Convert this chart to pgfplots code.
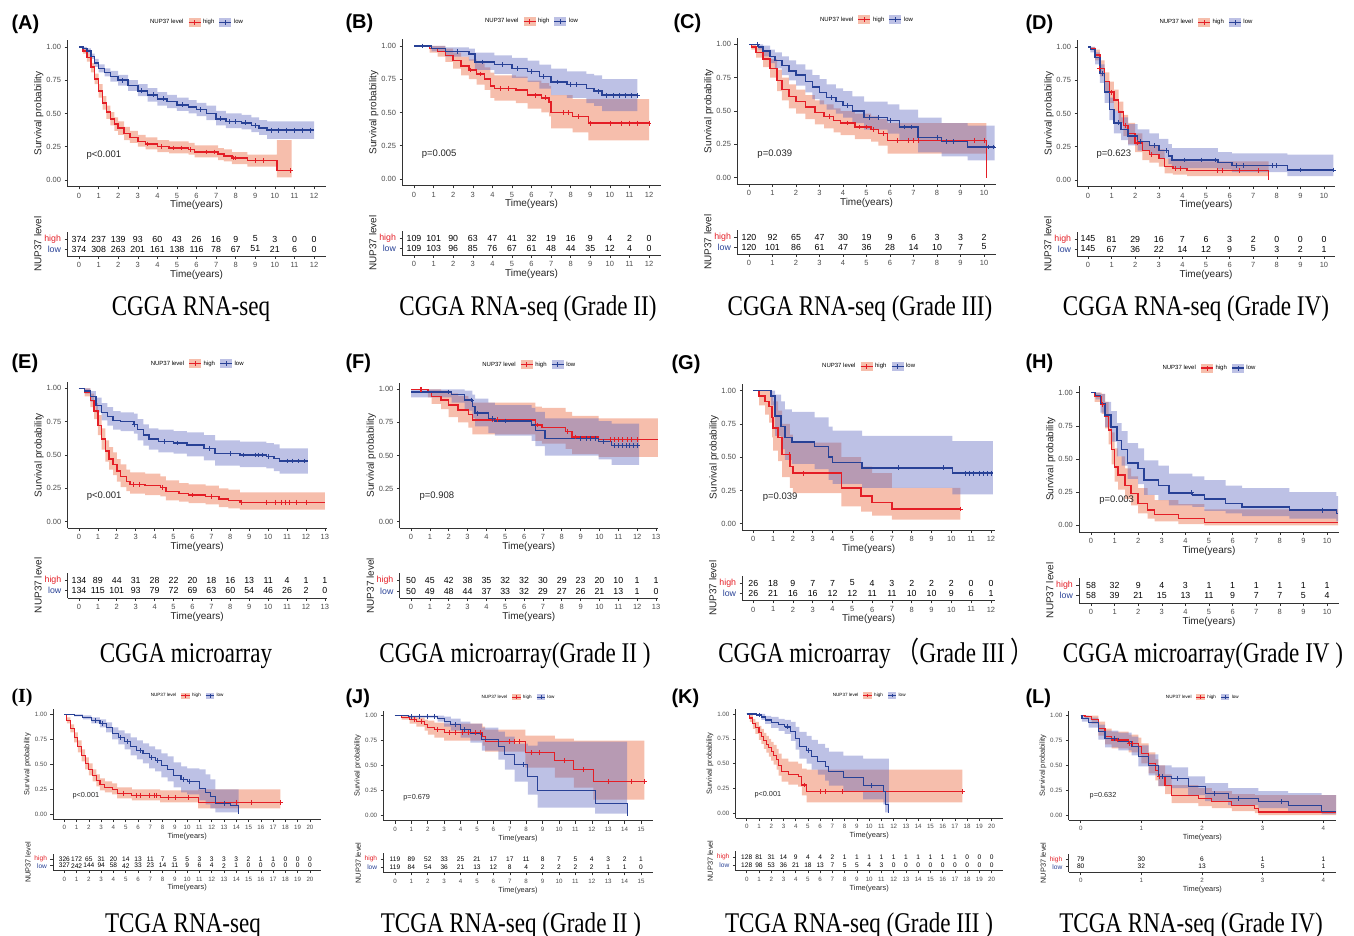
\documentclass[border=0pt]{standalone}
\usepackage{fontspec}
\setmainfont{Liberation Serif}
\newfontfamily\arialf{Liberation Sans}
\newfontfamily\cjk{Noto Sans CJK SC}
\usepackage{graphicx}
\usepackage{xcolor}
\usepackage{pgfplots}
\usepackage{pgfplotstable}
\pgfplotsset{compat=1.18}

\definecolor{kmR}{RGB}{228,30,38}
\definecolor{kmB}{RGB}{40,65,150}
\definecolor{bandR}{RGB}{235,110,70}
\definecolor{bandB}{RGB}{90,100,190}

% font sizes (1pt = 1px of the reference)
\newcommand\fTick{\arialf\fontsize{7.5}{8}\selectfont}
\newcommand\fLab{\arialf\fontsize{10}{11}\selectfont}
\newcommand\fNum{\arialf\fontsize{8.8}{9}\selectfont}
\newcommand\fP{\arialf\fontsize{9.5}{10}\selectfont}
\newcommand\fLeg{\arialf\fontsize{6}{7}\selectfont}
\newcommand\sTick{\arialf\fontsize{6.2}{7}\selectfont}
\newcommand\sLab{\arialf\fontsize{7.4}{8}\selectfont}
\newcommand\sNum{\arialf\fontsize{6.6}{7}\selectfont}
\newcommand\sP{\arialf\fontsize{7.3}{8}\selectfont}
\newcommand\sLeg{\arialf\fontsize{4.6}{5}\selectfont}
\newcommand\fPan{\arialf\bfseries\fontsize{20}{22}\selectfont}
\newcommand\capt[1]{\scalebox{0.81}[1]{\fontsize{28.5}{30}\selectfont #1}}

\pgfplotsset{
  base/.style={scale only axis, anchor=south west, axis lines=left,
    axis line style={-,black!80,line width=0.7pt}, tick align=outside,
    major tick length=2.8pt, tick style={black!80,line width=0.6pt},
    /pgf/number format/assume math mode=true, xlabel={Time(years)}},
  km/.style={base, ymin=-0.05, ymax=1.05, ytick={0,0.25,0.5,0.75,1},
    yticklabels={0.00,0.25,0.50,0.75,1.00}, ylabel={Survival probability},
    legend columns=-1,
    legend style={draw=none, fill=none, at={(0.5,1)}, anchor=center, inner sep=0pt,
      /tikz/every even column/.append style={column sep=2.5pt}}},
  rt/.style={base, ymin=0.3, ymax=2.7, ytick={1,2},
    yticklabels={\textcolor{kmB}{low},\textcolor{kmR}{high}}, ylabel={NUP37 level},
    every node near coord/.append style={anchor=center, text=black}},
  big/.style={tick label style={font=\fTick,text=black!70},
    label style={font=\fLab,text=black!85},
    xlabel style={yshift=4.5pt}, ylabel style={yshift=-4pt},
    legend style={font=\fLeg,yshift=18pt},
    every node near coord/.append style={font=\fNum},
    legR/.style={legend image code/.code={
      \fill[bandR,fill opacity=0.45,draw=none] (0pt,-4.5pt) rectangle (12pt,4.5pt);
      \draw[kmR,line width=1.1pt] (0pt,0pt)--(12pt,0pt);
      \draw[kmR,line width=0.7pt] (6pt,-2.5pt)--(6pt,2.5pt);}},
    legB/.style={legend image code/.code={
      \fill[bandB,fill opacity=0.4,draw=none] (0pt,-4.5pt) rectangle (12pt,4.5pt);
      \draw[kmB,line width=1.1pt] (0pt,0pt)--(12pt,0pt);
      \draw[kmB,line width=0.7pt] (6pt,-2.5pt)--(6pt,2.5pt);}}},
  bigrt/.style={big, yticklabel style={font=\fNum}},
  small/.style={tick label style={font=\sTick,text=black!70},
    label style={font=\sLab,text=black!85},
    xlabel style={yshift=3.5pt}, ylabel style={yshift=-3pt},
    legend style={font=\sLeg,yshift=13.5pt},
    every node near coord/.append style={font=\sNum},
    legR/.style={legend image code/.code={
      \fill[bandR,fill opacity=0.45,draw=none] (0pt,-3.2pt) rectangle (8.5pt,3.2pt);
      \draw[kmR,line width=0.8pt] (0pt,0pt)--(8.5pt,0pt);
      \draw[kmR,line width=0.5pt] (4.25pt,-1.8pt)--(4.25pt,1.8pt);}},
    legB/.style={legend image code/.code={
      \fill[bandB,fill opacity=0.4,draw=none] (0pt,-3.2pt) rectangle (8.5pt,3.2pt);
      \draw[kmB,line width=0.8pt] (0pt,0pt)--(8.5pt,0pt);
      \draw[kmB,line width=0.5pt] (4.25pt,-1.8pt)--(4.25pt,1.8pt);}}},
  smallrt/.style={small, yticklabel style={font=\sNum}},
}

% #1/#2 high/low curve, #3/#4 high/low band outline, #5/#6 censor marks, #7 line width
\newcommand\kmcurves[7]{%
  \addlegendimage{empty legend}\addlegendentry{NUP37 level}
  \addlegendimage{legR}\addlegendentry{high}
  \addlegendimage{legB}\addlegendentry{low}
  \addplot[const plot,draw=none,fill=bandR,fill opacity=0.45] table[x=t,y=b]{#3};
  \addplot[const plot,draw=none,fill=bandB,fill opacity=0.4] table[x=t,y=b]{#4};
  \addplot[kmR,const plot,line width=#7] table[x=t,y=s]{#1};
  \addplot[kmB,const plot,line width=#7] table[x=t,y=s]{#2};
  \addplot[kmR,only marks,mark=+,mark size=2.4pt,line width=0.7pt] coordinates {#5};
  \addplot[kmB,only marks,mark=+,mark size=2.4pt,line width=0.7pt] coordinates {#6};
}
\newcommand\rtrows[1]{%
  \addplot[draw=none,nodes near coords,point meta=explicit symbolic] table[x=t,y expr=2,meta=h]{#1};
  \addplot[draw=none,nodes near coords,point meta=explicit symbolic] table[x=t,y expr=1,meta=l]{#1};
}

% ---------------- data ----------------
% curves: step start time t, survival s ; bands: upper edge forward, lower edge back
% (A) CGGA RNA-seq
\pgfplotstableread[row sep=\\]{t s\\0 1\\0.2 0.97\\0.4 0.92\\0.6 0.85\\0.8 0.76\\1 0.67\\1.2 0.58\\1.4 0.51\\1.6 0.46\\1.8 0.42\\2 0.39\\2.3 0.35\\2.6 0.32\\3 0.29\\3.4 0.27\\4 0.25\\4.6 0.24\\5.6 0.23\\5.9 0.21\\7.1 0.195\\7.4 0.18\\7.8 0.165\\8.6 0.145\\10.1 0.07\\10.85 0.07\\}\Ah
\pgfplotstableread[row sep=\\]{t s\\0 1\\0.2 0.99\\0.4 0.97\\0.6 0.93\\0.8 0.88\\1 0.84\\1.3 0.81\\1.6 0.78\\2 0.75\\2.5 0.71\\3 0.67\\3.5 0.64\\4 0.61\\4.5 0.59\\5 0.565\\5.6 0.55\\6 0.53\\6.5 0.50\\7 0.46\\7.5 0.44\\8.3 0.43\\8.8 0.41\\9.2 0.39\\9.6 0.375\\12 0.375\\}\Al
\pgfplotstableread[row sep=\\]{t b\\0 1\\0.2 0.99\\0.4 0.95\\0.6 0.88\\0.8 0.80\\1 0.72\\1.2 0.63\\1.4 0.56\\1.6 0.51\\1.8 0.47\\2 0.44\\2.3 0.40\\2.6 0.37\\3 0.34\\3.4 0.32\\4 0.30\\4.6 0.29\\5.6 0.28\\5.9 0.26\\7.1 0.24\\7.4 0.23\\7.8 0.21\\8.6 0.19\\10.1 0.30\\10.85 0.30\\10.85 0.02\\10.1 0.10\\8.6 0.12\\7.8 0.14\\7.4 0.15\\7.1 0.17\\5.9 0.19\\5.6 0.20\\4.6 0.21\\4 0.23\\3.4 0.25\\3 0.28\\2.6 0.30\\2.3 0.34\\2 0.37\\1.8 0.41\\1.6 0.46\\1.4 0.53\\1.2 0.62\\1 0.72\\0.8 0.81\\0.6 0.89\\0.4 0.95\\0.2 1\\0 1\\}\bAh
\pgfplotstableread[row sep=\\]{t b\\0 1\\0.2 1\\0.4 0.99\\0.6 0.95\\0.8 0.91\\1 0.87\\1.3 0.84\\1.6 0.82\\2 0.79\\2.5 0.75\\3 0.72\\3.5 0.69\\4 0.66\\4.5 0.64\\5 0.62\\5.6 0.60\\6 0.58\\6.5 0.56\\7 0.52\\7.5 0.50\\8.3 0.49\\8.8 0.47\\9.2 0.45\\9.6 0.44\\12 0.44\\12 0.31\\9.6 0.34\\9.2 0.36\\8.8 0.38\\8.3 0.39\\7.5 0.41\\7 0.45\\6.5 0.48\\6 0.50\\5.6 0.52\\5 0.54\\4.5 0.56\\4 0.59\\3.5 0.63\\3 0.67\\2.5 0.71\\2 0.74\\1.6 0.78\\1.3 0.81\\1 0.85\\0.8 0.91\\0.6 0.95\\0.4 0.98\\0.2 1\\0 1\\}\bAl
\pgfplotstableread[row sep=\\]{t h l\\0 374 374\\1 237 308\\2 139 263\\3 93 201\\4 60 161\\5 43 138\\6 26 116\\7 16 78\\8 9 67\\9 5 51\\10 3 21\\11 0 6\\12 0 0\\}\RA

% (B)
\pgfplotstableread[row sep=\\]{t s\\0 1\\0.8 0.98\\1.2 0.96\\1.6 0.93\\2 0.89\\2.4 0.85\\2.8 0.82\\3.2 0.79\\3.6 0.75\\3.9 0.70\\4.1 0.68\\5.2 0.67\\5.8 0.63\\6.5 0.61\\6.9 0.58\\7 0.50\\8.1 0.47\\8.9 0.42\\12 0.42\\}\Bh
\pgfplotstableread[row sep=\\]{t s\\0 1\\0.9 0.98\\1.6 0.96\\2.8 0.94\\3.1 0.88\\4.1 0.86\\5 0.83\\5.8 0.81\\6.4 0.77\\7 0.73\\7.8 0.71\\8.8 0.68\\9.2 0.66\\9.6 0.63\\11.4 0.63\\}\Bl
\pgfplotstableread[row sep=\\]{t b\\0 1\\0.8 1\\1.2 1\\1.6 0.98\\2 0.95\\2.4 0.92\\2.8 0.90\\3.2 0.87\\3.6 0.84\\3.9 0.80\\4.1 0.78\\5.2 0.77\\5.8 0.74\\6.5 0.72\\6.9 0.70\\7 0.63\\8.1 0.60\\8.9 0.60\\12 0.60\\12 0.29\\8.9 0.35\\8.1 0.38\\7 0.47\\6.9 0.50\\6.5 0.53\\5.8 0.57\\5.2 0.59\\4.1 0.61\\3.9 0.67\\3.6 0.71\\3.2 0.75\\2.8 0.78\\2.4 0.83\\2 0.88\\1.6 0.92\\1.2 0.95\\0.8 1\\0 1\\}\bBh
\pgfplotstableread[row sep=\\]{t b\\0 1\\0.9 1\\1.6 0.99\\2.8 0.98\\3.1 0.95\\4.1 0.93\\5 0.91\\5.8 0.89\\6.4 0.86\\7 0.83\\7.8 0.81\\8.8 0.79\\9.2 0.78\\9.6 0.75\\11.4 0.75\\11.4 0.51\\9.6 0.55\\9.2 0.57\\8.8 0.61\\7.8 0.63\\7 0.68\\6.4 0.73\\5.8 0.76\\5 0.79\\4.1 0.82\\3.1 0.89\\2.8 0.92\\1.6 0.96\\0.9 1\\0 1\\}\bBl
\pgfplotstableread[row sep=\\]{t h l\\0 109 109\\1 101 103\\2 90 96\\3 63 85\\4 47 76\\5 41 67\\6 32 61\\7 19 48\\8 16 44\\9 9 35\\10 4 12\\11 2 4\\12 0 0\\}\RB

% (C)
\pgfplotstableread[row sep=\\]{t s\\0 1\\0.1 0.98\\0.3 0.94\\0.6 0.89\\0.9 0.82\\1.2 0.73\\1.4 0.66\\1.7 0.61\\2 0.57\\2.4 0.53\\2.8 0.49\\3.2 0.46\\3.6 0.43\\3.9 0.41\\4.5 0.38\\5.2 0.36\\5.5 0.33\\5.9 0.28\\10.1 0.28\\10.1 0\\}\Ch
\pgfplotstableread[row sep=\\]{t s\\0 1\\0.4 0.98\\0.6 0.95\\0.9 0.91\\1.1 0.88\\1.4 0.84\\1.7 0.80\\2 0.77\\2.4 0.72\\2.7 0.68\\3 0.64\\3.3 0.60\\3.7 0.57\\4 0.54\\4.4 0.50\\4.9 0.45\\5.9 0.43\\6.4 0.38\\7.2 0.30\\8.2 0.27\\9.3 0.23\\10.45 0.23\\}\Cl
\pgfplotstableread[row sep=\\]{t b\\0 1\\0.1 1\\0.3 0.98\\0.6 0.95\\0.9 0.89\\1.2 0.81\\1.4 0.75\\1.7 0.70\\2 0.66\\2.4 0.62\\2.8 0.58\\3.2 0.55\\3.6 0.52\\3.9 0.50\\4.5 0.48\\5.2 0.46\\5.5 0.44\\5.9 0.41\\10.1 0.41\\10.1 0.18\\5.9 0.24\\5.5 0.27\\5.2 0.29\\4.5 0.32\\3.9 0.34\\3.6 0.37\\3.2 0.40\\2.8 0.44\\2.4 0.48\\2 0.52\\1.7 0.58\\1.4 0.65\\1.2 0.75\\0.9 0.83\\0.6 0.90\\0.3 0.96\\0.1 1\\0 1\\}\bCh
\pgfplotstableread[row sep=\\]{t b\\0 1\\0.4 1\\0.6 0.99\\0.9 0.96\\1.1 0.94\\1.4 0.91\\1.7 0.88\\2 0.85\\2.4 0.81\\2.7 0.77\\3 0.74\\3.3 0.70\\3.7 0.67\\4 0.65\\4.4 0.61\\4.9 0.57\\5.9 0.55\\6.4 0.51\\7.2 0.45\\8.2 0.41\\9.3 0.39\\10.45 0.39\\10.45 0.13\\9.3 0.16\\8.2 0.19\\7.2 0.28\\6.4 0.33\\5.9 0.36\\4.9 0.41\\4.4 0.45\\4 0.48\\3.7 0.51\\3.3 0.55\\3 0.59\\2.7 0.64\\2.4 0.69\\2 0.73\\1.7 0.77\\1.4 0.82\\1.1 0.86\\0.9 0.91\\0.6 0.96\\0.4 1\\0 1\\}\bCl
\pgfplotstableread[row sep=\\]{t h l\\0 120 120\\1 92 101\\2 65 86\\3 47 61\\4 30 47\\5 19 36\\6 9 28\\7 6 14\\8 3 10\\9 3 7\\10 2 5\\}\RC

% (D)
\pgfplotstableread[row sep=\\]{t s\\0 1\\0.1 0.99\\0.3 0.94\\0.5 0.84\\0.7 0.74\\0.9 0.66\\1.1 0.60\\1.3 0.51\\1.5 0.41\\1.7 0.35\\2 0.28\\2.3 0.22\\2.6 0.19\\3 0.16\\3.25 0.10\\3.6 0.085\\4.2 0.07\\7.65 0.07\\7.65 0\\}\Dh
\pgfplotstableread[row sep=\\]{t s\\0 1\\0.1 0.98\\0.3 0.92\\0.5 0.80\\0.7 0.66\\0.9 0.53\\1.1 0.43\\1.4 0.38\\1.7 0.33\\2.1 0.29\\2.6 0.26\\3 0.22\\3.4 0.18\\3.55 0.15\\5.5 0.13\\6.1 0.11\\8.45 0.075\\10.4 0.075\\}\Dl
\pgfplotstableread[row sep=\\]{t b\\0 1\\0.1 1\\0.3 0.98\\0.5 0.90\\0.7 0.81\\0.9 0.74\\1.1 0.68\\1.3 0.59\\1.5 0.49\\1.7 0.43\\2 0.35\\2.3 0.29\\2.6 0.26\\3 0.23\\3.25 0.16\\3.6 0.15\\4.2 0.14\\7.65 0.14\\7.65 0.03\\4.2 0.04\\3.6 0.05\\3.25 0.10\\3 0.13\\2.6 0.15\\2.3 0.21\\2 0.27\\1.7 0.33\\1.5 0.43\\1.3 0.52\\1.1 0.58\\0.9 0.67\\0.7 0.78\\0.5 0.90\\0.3 0.98\\0.1 1\\0 1\\}\bDh
\pgfplotstableread[row sep=\\]{t b\\0 1\\0.1 1\\0.3 0.96\\0.5 0.87\\0.7 0.74\\0.9 0.62\\1.1 0.52\\1.4 0.47\\1.7 0.42\\2.1 0.38\\2.6 0.35\\3 0.31\\3.4 0.27\\3.55 0.24\\5.5 0.21\\6.1 0.20\\8.45 0.19\\10.4 0.19\\10.4 0.03\\8.45 0.06\\6.1 0.08\\5.5 0.09\\3.55 0.12\\3.4 0.16\\3 0.19\\2.6 0.22\\2.1 0.26\\1.7 0.30\\1.4 0.35\\1.1 0.45\\0.9 0.58\\0.7 0.73\\0.5 0.87\\0.3 0.96\\0.1 1\\0 1\\}\bDl
\pgfplotstableread[row sep=\\]{t h l\\0 145 145\\1 81 67\\2 29 36\\3 16 22\\4 7 14\\5 6 12\\6 3 9\\7 2 5\\8 0 3\\9 0 2\\10 0 1\\}\RD

% (E)
\pgfplotstableread[row sep=\\]{t s\\0 1\\0.3 0.97\\0.6 0.91\\0.8 0.83\\1 0.72\\1.2 0.62\\1.4 0.53\\1.6 0.47\\1.8 0.43\\2 0.38\\2.2 0.34\\2.5 0.30\\2.7 0.28\\3.5 0.27\\4.3 0.255\\4.6 0.225\\5.3 0.21\\5.8 0.20\\6.7 0.19\\7.4 0.17\\7.9 0.16\\8.5 0.145\\13 0.145\\}\Eh
\pgfplotstableread[row sep=\\]{t s\\0 1\\0.3 0.98\\0.6 0.94\\0.9 0.87\\1.2 0.82\\1.5 0.79\\1.8 0.76\\2.2 0.75\\2.9 0.73\\3.1 0.69\\3.4 0.65\\3.7 0.62\\4.2 0.60\\5 0.59\\5.7 0.575\\6.6 0.55\\7.2 0.51\\8.5 0.50\\9.9 0.49\\10.3 0.475\\10.6 0.455\\12.1 0.455\\}\El
\pgfplotstableread[row sep=\\]{t b\\0 1\\0.3 1\\0.6 0.96\\0.8 0.89\\1 0.80\\1.2 0.70\\1.4 0.61\\1.6 0.56\\1.8 0.52\\2 0.47\\2.2 0.43\\2.5 0.39\\2.7 0.37\\3.5 0.36\\4.3 0.34\\4.6 0.31\\5.3 0.29\\5.8 0.28\\6.7 0.27\\7.4 0.25\\7.9 0.24\\8.5 0.22\\13 0.22\\13 0.09\\8.5 0.10\\7.9 0.11\\7.4 0.13\\6.7 0.14\\5.8 0.15\\5.3 0.16\\4.6 0.19\\4.3 0.20\\3.5 0.21\\2.7 0.23\\2.5 0.26\\2.2 0.30\\2 0.35\\1.8 0.39\\1.6 0.45\\1.4 0.54\\1.2 0.65\\1 0.77\\0.8 0.86\\0.6 0.94\\0.3 1\\0 1\\}\bEh
\pgfplotstableread[row sep=\\]{t b\\0 1\\0.3 1\\0.6 0.98\\0.9 0.93\\1.2 0.89\\1.5 0.86\\1.8 0.83\\2.2 0.82\\2.9 0.81\\3.1 0.77\\3.4 0.73\\3.7 0.70\\4.2 0.69\\5 0.68\\5.7 0.67\\6.6 0.65\\7.2 0.61\\8.5 0.60\\9.9 0.59\\10.3 0.58\\10.6 0.55\\12.1 0.55\\12.1 0.36\\10.6 0.38\\10.3 0.40\\9.9 0.41\\8.5 0.42\\7.2 0.46\\6.6 0.49\\5.7 0.51\\5 0.52\\4.2 0.54\\3.7 0.57\\3.4 0.61\\3.1 0.66\\2.9 0.68\\2.2 0.69\\1.8 0.72\\1.5 0.76\\1.2 0.82\\0.9 0.90\\0.6 0.96\\0.3 1\\0 1\\}\bEl
\pgfplotstableread[row sep=\\]{t h l\\0 134 134\\1 89 115\\2 44 101\\3 31 93\\4 28 79\\5 22 72\\6 20 69\\7 18 63\\8 16 60\\9 13 54\\10 11 46\\11 4 26\\12 1 2\\13 1 0\\}\RE

% (F)
\pgfplotstableread[row sep=\\]{t s\\0 1\\0.9 0.98\\1.1 0.945\\1.6 0.92\\2 0.88\\2.5 0.845\\3.05 0.81\\3.25 0.77\\6.6 0.73\\6.95 0.71\\8.2 0.68\\8.55 0.64\\9.95 0.62\\13.1 0.62\\}\Fh
\pgfplotstableread[row sep=\\]{t s\\0 0.98\\2.15 0.96\\2.85 0.92\\3.25 0.87\\3.4 0.82\\4.1 0.78\\4.45 0.76\\6.4 0.73\\6.6 0.69\\7.1 0.63\\9.95 0.605\\10.65 0.575\\12.1 0.575\\}\Fl
\pgfplotstableread[row sep=\\]{t b\\0 1\\0.9 1\\1.1 1\\1.6 0.99\\2 0.97\\2.5 0.95\\3.05 0.93\\3.25 0.90\\6.6 0.87\\6.95 0.86\\8.2 0.83\\8.55 0.80\\9.95 0.78\\13.1 0.78\\13.1 0.49\\9.95 0.51\\8.55 0.55\\8.2 0.59\\6.95 0.61\\6.6 0.66\\3.25 0.71\\3.05 0.75\\2.5 0.79\\2 0.85\\1.6 0.89\\1.1 0.94\\0.9 1\\0 1\\}\bFh
\pgfplotstableread[row sep=\\]{t b\\0 1\\2.15 1\\2.85 0.99\\3.25 0.96\\3.4 0.93\\4.1 0.90\\4.45 0.88\\6.4 0.86\\6.6 0.83\\7.1 0.78\\9.95 0.76\\10.65 0.74\\12.1 0.74\\12.1 0.43\\10.65 0.47\\9.95 0.50\\7.1 0.57\\6.6 0.61\\6.4 0.65\\4.45 0.67\\4.1 0.72\\3.4 0.78\\3.25 0.84\\2.85 0.90\\2.15 0.94\\0 0.94\\}\bFl
\pgfplotstableread[row sep=\\]{t h l\\0 50 50\\1 45 49\\2 42 48\\3 38 44\\4 35 37\\5 32 33\\6 32 32\\7 30 29\\8 29 27\\9 23 26\\10 20 21\\11 10 13\\12 1 1\\13 1 0\\}\RF

% (G)
\pgfplotstableread[row sep=\\]{t s\\0 1\\0.3 0.96\\0.6 0.92\\0.8 0.88\\0.95 0.80\\1 0.72\\1.25 0.65\\1.45 0.52\\1.85 0.43\\2 0.38\\4.45 0.27\\5.45 0.21\\6 0.16\\7 0.11\\10.45 0.11\\}\Gh
\pgfplotstableread[row sep=\\]{t s\\0 1\\0.9 0.96\\1.1 0.81\\1.4 0.73\\1.6 0.65\\1.95 0.615\\3.1 0.58\\3.8 0.50\\4 0.46\\5.5 0.42\\10.05 0.38\\12.1 0.38\\}\Gl
\pgfplotstableread[row sep=\\]{t b\\0 1\\0.3 1\\0.6 1\\0.8 1\\0.95 0.96\\1 0.92\\1.25 0.85\\1.45 0.75\\1.85 0.67\\2 0.61\\4.45 0.50\\5.45 0.43\\6 0.38\\7 0.27\\10.45 0.27\\10.45 0.03\\7 0.06\\6 0.09\\5.45 0.13\\4.45 0.23\\2 0.27\\1.85 0.35\\1.45 0.47\\1.25 0.55\\1 0.65\\0.95 0.76\\0.8 0.82\\0.6 0.89\\0.3 1\\0 1\\}\bGh
\pgfplotstableread[row sep=\\]{t b\\0 1\\0.9 1\\1.1 0.97\\1.4 0.92\\1.6 0.86\\1.95 0.84\\3.1 0.80\\3.8 0.73\\4 0.70\\5.5 0.66\\10.05 0.62\\12.1 0.62\\12.1 0.22\\10.05 0.27\\5.5 0.30\\4 0.33\\3.8 0.41\\3.1 0.45\\1.95 0.48\\1.6 0.56\\1.4 0.66\\1.1 0.89\\0.9 1\\0 1\\}\bGl
\pgfplotstableread[row sep=\\]{t h l\\0 26 26\\1 18 21\\2 9 16\\3 7 16\\4 7 12\\5 5 12\\6 4 11\\7 3 11\\8 2 10\\9 2 10\\10 2 9\\11 0 6\\12 0 1\\}\RG

% (H)
\pgfplotstableread[row sep=\\]{t s\\0 1\\0.15 0.97\\0.45 0.91\\0.6 0.82\\0.75 0.72\\0.87 0.57\\1 0.44\\1.15 0.38\\1.45 0.30\\1.7 0.24\\2 0.165\\2.4 0.115\\2.7 0.08\\3.7 0.05\\4.8 0.02\\10.47 0.02\\}\Hh
\pgfplotstableread[row sep=\\]{t s\\0 1\\0.2 0.98\\0.4 0.92\\0.6 0.83\\0.85 0.74\\1.1 0.64\\1.3 0.57\\1.55 0.47\\2 0.43\\2.25 0.34\\2.85 0.30\\3.3 0.245\\4.3 0.23\\4.8 0.20\\5.7 0.165\\6.4 0.14\\8.4 0.115\\10.4 0.09\\10.47 0.09\\}\Hl
\pgfplotstableread[row sep=\\]{t b\\0 1\\0.15 1\\0.45 0.99\\0.6 0.93\\0.75 0.84\\0.87 0.70\\1 0.58\\1.15 0.52\\1.45 0.43\\1.7 0.37\\2 0.28\\2.4 0.23\\2.7 0.19\\3.7 0.16\\4.8 0.12\\10.47 0.12\\10.47 0\\4.8 0.01\\3.7 0.03\\2.7 0.05\\2.4 0.09\\2 0.15\\1.7 0.20\\1.45 0.27\\1.15 0.33\\1 0.46\\0.87 0.61\\0.75 0.73\\0.6 0.84\\0.45 0.93\\0.15 1\\0 1\\}\bHh
\pgfplotstableread[row sep=\\]{t b\\0 1\\0.2 1\\0.4 0.99\\0.6 0.93\\0.85 0.86\\1.1 0.77\\1.3 0.71\\1.55 0.62\\2 0.58\\2.25 0.49\\2.85 0.45\\3.3 0.39\\4.3 0.37\\4.8 0.34\\5.7 0.30\\6.4 0.28\\8.4 0.25\\10.4 0.22\\10.47 0.22\\10.47 0.03\\10.4 0.05\\8.4 0.07\\6.4 0.09\\5.7 0.11\\4.8 0.14\\4.3 0.15\\3.3 0.19\\2.85 0.23\\2.25 0.31\\2 0.35\\1.55 0.45\\1.3 0.52\\1.1 0.63\\0.85 0.74\\0.6 0.85\\0.4 0.95\\0.2 1\\0 1\\}\bHl
\pgfplotstableread[row sep=\\]{t h l\\0 58 58\\1 32 39\\2 9 21\\3 4 15\\4 3 13\\5 1 11\\6 1 9\\7 1 7\\8 1 7\\9 1 5\\10 1 4\\}\RH

% (I)
\pgfplotstableread[row sep=\\]{t s\\0 1\\0.2 0.94\\0.5 0.86\\0.8 0.77\\1.1 0.68\\1.4 0.59\\1.7 0.51\\2 0.45\\2.3 0.39\\2.6 0.34\\2.9 0.30\\3.3 0.27\\3.9 0.25\\4.3 0.21\\5.5 0.19\\7.8 0.17\\10.9 0.12\\17.6 0.12\\}\Ih
\pgfplotstableread[row sep=\\]{t s\\0 1\\0.8 0.99\\1.5 0.97\\2.2 0.94\\2.9 0.91\\3.4 0.87\\3.9 0.81\\4.4 0.77\\4.9 0.73\\5.4 0.68\\5.9 0.64\\6.4 0.61\\6.9 0.57\\7.4 0.54\\7.9 0.49\\8.4 0.45\\8.9 0.39\\9.5 0.35\\10 0.33\\11 0.26\\11.5 0.22\\11.9 0.18\\12.3 0.11\\13.5 0.09\\14.2 0.09\\14.2 0\\}\Il
\pgfplotstableread[row sep=\\]{t b\\0 1\\0.2 0.97\\0.5 0.90\\0.8 0.82\\1.1 0.74\\1.4 0.65\\1.7 0.57\\2 0.51\\2.3 0.45\\2.6 0.40\\2.9 0.36\\3.3 0.33\\3.9 0.31\\4.3 0.27\\5.5 0.25\\7.8 0.24\\10.9 0.25\\17.6 0.25\\17.6 0.06\\10.9 0.12\\7.8 0.14\\5.5 0.16\\4.3 0.20\\3.9 0.22\\3.3 0.24\\2.9 0.28\\2.6 0.33\\2.3 0.39\\2 0.45\\1.7 0.53\\1.4 0.62\\1.1 0.72\\0.8 0.82\\0.5 0.91\\0.2 1\\0 1\\}\bIh
\pgfplotstableread[row sep=\\]{t b\\0 1\\0.8 1\\1.5 0.99\\2.2 0.97\\2.9 0.95\\3.4 0.92\\3.9 0.87\\4.4 0.84\\4.9 0.81\\5.4 0.77\\5.9 0.74\\6.4 0.71\\6.9 0.68\\7.4 0.65\\7.9 0.61\\8.4 0.58\\8.9 0.52\\9.5 0.48\\10 0.46\\11 0.45\\11.5 0.40\\11.9 0.35\\12.3 0.25\\13.5 0.25\\14.2 0.25\\14.2 0.02\\13.5 0.02\\12.3 0.06\\11.9 0.10\\11.5 0.14\\11 0.20\\10 0.22\\9.5 0.27\\8.9 0.33\\8.4 0.37\\7.9 0.43\\7.4 0.46\\6.9 0.51\\6.4 0.55\\5.9 0.59\\5.4 0.65\\4.9 0.70\\4.4 0.75\\3.9 0.82\\3.4 0.87\\2.9 0.91\\2.2 0.95\\1.5 0.98\\0.8 1\\0 1\\}\bIl
\pgfplotstableread[row sep=\\]{t h l\\0 326 327\\1 172 242\\2 65 144\\3 31 94\\4 20 58\\5 14 42\\6 13 33\\7 11 23\\8 7 14\\9 5 11\\10 5 9\\11 3 6\\12 3 4\\13 3 2\\14 3 1\\15 2 0\\16 1 0\\17 1 0\\18 0 0\\19 0 0\\20 0 0\\}\RI

% (J)
\pgfplotstableread[row sep=\\]{t s\\0 1\\0.4 0.98\\0.9 0.96\\1.3 0.94\\1.8 0.91\\2 0.88\\2.4 0.86\\3 0.83\\5.35 0.79\\5.5 0.745\\7.95 0.63\\9.75 0.55\\10.9 0.46\\12.1 0.34\\15.2 0.34\\}\Jh
\pgfplotstableread[row sep=\\]{t s\\0 1\\0.8 0.99\\2.6 0.97\\3 0.94\\3.4 0.91\\4 0.86\\4.6 0.82\\5.3 0.76\\6.3 0.69\\6.7 0.61\\7.3 0.51\\8.1 0.39\\8.7 0.25\\12.2 0.125\\14.15 0.125\\14.15 0\\}\Jl
\pgfplotstableread[row sep=\\]{t b\\0 1\\0.4 1\\0.9 0.99\\1.3 0.98\\1.8 0.96\\2 0.95\\2.4 0.93\\3 0.92\\5.35 0.89\\5.5 0.86\\7.95 0.80\\9.75 0.77\\10.9 0.75\\12.1 0.75\\15.2 0.75\\15.2 0.16\\12.1 0.28\\10.9 0.38\\9.75 0.48\\7.95 0.64\\5.5 0.70\\5.35 0.75\\3 0.78\\2.4 0.81\\2 0.85\\1.8 0.89\\1.3 0.92\\0.9 0.96\\0.4 1\\0 1\\}\bJh
\pgfplotstableread[row sep=\\]{t b\\0 1\\0.8 1\\2.6 1\\3 0.99\\3.4 0.97\\4 0.94\\4.6 0.92\\5.3 0.88\\6.3 0.84\\6.7 0.79\\7.3 0.72\\8.1 0.70\\8.7 0.74\\12.2 0.74\\14.15 0.74\\14.15 0.02\\12.2 0.08\\8.7 0.21\\8.1 0.34\\7.3 0.46\\6.7 0.56\\6.3 0.65\\5.3 0.73\\4.6 0.78\\4 0.85\\3.4 0.89\\3 0.94\\2.6 0.98\\0.8 1\\0 1\\}\bJl
\pgfplotstableread[row sep=\\]{t h l\\0 119 119\\1 89 84\\2 52 54\\3 33 36\\4 25 21\\5 21 13\\6 17 12\\7 17 8\\8 11 4\\9 8 2\\10 7 2\\11 5 2\\12 4 2\\13 3 1\\14 2 1\\15 1 0\\}\RJ

% (K)
\pgfplotstableread[row sep=\\]{t s\\0 1\\0.25 0.96\\0.5 0.90\\0.7 0.86\\1 0.81\\1.2 0.77\\1.4 0.73\\1.6 0.69\\1.8 0.66\\2 0.62\\2.2 0.58\\2.45 0.54\\2.6 0.48\\2.85 0.42\\3.4 0.39\\4.2 0.37\\4.5 0.285\\4.9 0.22\\17.6 0.22\\}\Kh
\pgfplotstableread[row sep=\\]{t s\\0 1\\0.8 0.99\\1.2 0.97\\1.5 0.94\\2 0.91\\2.6 0.89\\3.1 0.87\\3.6 0.82\\4 0.75\\4.3 0.67\\4.9 0.63\\5.3 0.57\\5.8 0.52\\6.4 0.47\\6.7 0.42\\7.9 0.36\\9.5 0.28\\11.15 0.22\\11.3 0.09\\11.6 0.09\\11.6 0\\}\Kl
\pgfplotstableread[row sep=\\]{t b\\0 1\\0.25 0.99\\0.5 0.95\\0.7 0.92\\1 0.88\\1.2 0.85\\1.4 0.81\\1.6 0.78\\1.8 0.75\\2 0.72\\2.2 0.69\\2.45 0.65\\2.6 0.60\\2.85 0.55\\3.4 0.52\\4.2 0.50\\4.5 0.45\\4.9 0.44\\17.6 0.44\\17.6 0.11\\4.9 0.18\\4.5 0.27\\4.2 0.29\\3.4 0.32\\2.85 0.38\\2.6 0.44\\2.45 0.49\\2.2 0.53\\2 0.57\\1.8 0.61\\1.6 0.65\\1.4 0.70\\1.2 0.74\\1 0.80\\0.7 0.85\\0.5 0.92\\0.25 1\\0 1\\}\bKh
\pgfplotstableread[row sep=\\]{t b\\0 1\\0.8 1\\1.2 1\\1.5 0.98\\2 0.97\\2.6 0.95\\3.1 0.94\\3.6 0.92\\4 0.87\\4.3 0.82\\4.9 0.78\\5.3 0.74\\5.8 0.70\\6.4 0.66\\6.7 0.62\\7.9 0.58\\9.5 0.55\\11.15 0.55\\11.3 0.55\\11.6 0.55\\11.6 0.01\\11.3 0.09\\11.15 0.14\\9.5 0.22\\7.9 0.28\\6.7 0.33\\6.4 0.39\\5.8 0.44\\5.3 0.50\\4.9 0.55\\4.3 0.64\\4 0.73\\3.6 0.80\\3.1 0.83\\2.6 0.86\\2 0.90\\1.5 0.94\\1.2 0.98\\0.8 1\\0 1\\}\bKl
\pgfplotstableread[row sep=\\]{t h l\\0 128 128\\1 81 98\\2 31 53\\3 14 36\\4 9 21\\5 4 18\\6 4 13\\7 2 7\\8 1 5\\9 1 5\\10 1 4\\11 1 3\\12 1 0\\13 1 0\\14 1 0\\15 1 0\\16 1 0\\17 1 0\\18 0 0\\19 0 0\\20 0 0\\}\RK

% (L)
\pgfplotstableread[row sep=\\]{t s\\0 1\\0.07 0.99\\0.18 0.96\\0.29 0.87\\0.4 0.79\\0.51 0.755\\0.79 0.72\\0.95 0.69\\1 0.62\\1.12 0.52\\1.23 0.45\\1.28 0.39\\1.39 0.30\\1.5 0.20\\1.94 0.17\\2.16 0.135\\2.49 0.10\\2.87 0.07\\2.93 0.03\\4.21 0.03\\}\Lh
\pgfplotstableread[row sep=\\]{t s\\0 1\\0.02 0.975\\0.13 0.93\\0.29 0.84\\0.4 0.77\\0.62 0.74\\0.84 0.69\\0.95 0.59\\1.12 0.50\\1.28 0.39\\1.5 0.37\\1.77 0.285\\2.05 0.22\\2.43 0.17\\2.93 0.135\\3.42 0.10\\3.97 0.035\\4.21 0.035\\}\Ll
\pgfplotstableread[row sep=\\]{t b\\0 1\\0.07 1\\0.18 1\\0.29 0.94\\0.4 0.87\\0.51 0.84\\0.79 0.81\\0.95 0.78\\1 0.72\\1.12 0.63\\1.23 0.56\\1.28 0.50\\1.39 0.41\\1.5 0.30\\1.94 0.27\\2.16 0.24\\2.49 0.21\\2.87 0.20\\2.93 0.20\\4.21 0.20\\4.21 0\\2.93 0.02\\2.87 0.04\\2.49 0.07\\2.16 0.09\\1.94 0.12\\1.5 0.21\\1.39 0.29\\1.28 0.35\\1.23 0.42\\1.12 0.52\\1 0.60\\0.95 0.63\\0.79 0.67\\0.51 0.71\\0.4 0.80\\0.29 0.92\\0.18 0.97\\0.07 1\\0 1\\}\bLh
\pgfplotstableread[row sep=\\]{t b\\0 1\\0.02 1\\0.13 0.98\\0.29 0.91\\0.4 0.85\\0.62 0.83\\0.84 0.79\\0.95 0.70\\1.12 0.61\\1.28 0.50\\1.5 0.48\\1.77 0.39\\2.05 0.32\\2.43 0.27\\2.93 0.24\\3.42 0.22\\3.97 0.20\\4.21 0.20\\4.21 0.01\\3.97 0.04\\3.42 0.07\\2.93 0.10\\2.43 0.14\\2.05 0.20\\1.77 0.27\\1.5 0.29\\1.28 0.40\\1.12 0.49\\0.95 0.60\\0.84 0.65\\0.62 0.68\\0.4 0.76\\0.29 0.88\\0.13 0.94\\0.02 1\\0 1\\}\bLl
\pgfplotstableread[row sep=\\]{t h l\\0 79 80\\1 30 32\\2 6 13\\3 1 5\\4 1 1\\}\RL

\begin{document}
\begin{tikzpicture}
\path[use as bounding box] (0pt,0pt) rectangle (1354pt,-936pt);

% ===== row 1 =====
\begin{axis}[km,big,at={(67.3pt,-186.65pt)},width=258.5pt,height=146.3pt,xmin=-0.6,xmax=12.6,xtick={0,...,12}]
\kmcurves{\Ah}{\Al}{\bAh}{\bAl}{(3.5,0.27)(4.2,0.25)(4.8,0.24)(5.2,0.24)(5.7,0.23)(6.5,0.21)(6.9,0.21)(7.9,0.165)(8.0,0.165)(9.0,0.145)(9.4,0.145)(10.8,0.07)}{(2.2,0.75)(3.2,0.67)(3.8,0.64)(4.3,0.61)(5.3,0.565)(6.2,0.53)(7.2,0.46)(7.7,0.44)(8.0,0.44)(8.5,0.43)(9.0,0.41)(9.8,0.375)(10.2,0.375)(10.6,0.375)(11.0,0.375)(11.4,0.375)(11.8,0.375)}{1.5pt}
\node[anchor=west,font=\fP,text=black!85] at (axis cs:0.2,0.19) {p<0.001};
\end{axis}
\begin{axis}[rt,bigrt,at={(67.3pt,-256pt)},width=258.5pt,height=24pt,xmin=-0.6,xmax=12.6,xtick={0,...,12}]
\rtrows{\RA}
\end{axis}

\begin{axis}[km,big,at={(402.3pt,-185.65pt)},width=258.5pt,height=146.3pt,xmin=-0.6,xmax=12.6,xtick={0,...,12}]
\kmcurves{\Bh}{\Bl}{\bBh}{\bBl}{(2.9,0.82)(3.4,0.79)(4.4,0.68)(4.8,0.68)(6.2,0.63)(6.7,0.61)(7.6,0.50)(7.9,0.50)(8.4,0.47)(9.0,0.42)(10.0,0.42)(10.6,0.42)(11.0,0.42)(11.4,0.42)(12.0,0.42)}{(0.4,1.0)(2.2,0.96)(3.5,0.88)(4.5,0.86)(5.3,0.83)(6.0,0.81)(6.6,0.77)(7.3,0.73)(8.0,0.71)(8.3,0.71)(9.4,0.66)(9.8,0.63)(10.2,0.63)(10.5,0.63)(10.8,0.63)(11.1,0.63)(11.4,0.63)}{1.5pt}
\node[anchor=west,font=\fP,text=black!85] at (axis cs:0.22,0.19) {p=0.005};
\end{axis}
\begin{axis}[rt,bigrt,at={(402.3pt,-255pt)},width=258.5pt,height=24pt,xmin=-0.6,xmax=12.6,xtick={0,...,12}]
\rtrows{\RB}
\end{axis}

\begin{axis}[km,big,at={(737.25pt,-184.4pt)},width=258.5pt,height=146.7pt,xmin=-0.5,xmax=10.5,xtick={0,...,10}]
\kmcurves{\Ch}{\Cl}{\bCh}{\bCl}{(3.4,0.46)(4.2,0.41)(4.7,0.38)(5.0,0.38)(5.3,0.36)(5.7,0.33)(6.3,0.28)(6.8,0.28)(7.0,0.28)(7.2,0.28)(9.6,0.28)(10.0,0.28)}{(0.35,1.0)(3.5,0.60)(4.2,0.54)(5.1,0.45)(5.5,0.45)(6.0,0.43)(6.6,0.38)(6.9,0.38)(8.0,0.30)(8.4,0.27)(8.7,0.27)(10.2,0.23)(10.4,0.23)}{1.5pt}
\node[anchor=west,font=\fP,text=black!85] at (axis cs:0.21,0.18) {p=0.039};
\end{axis}
\begin{axis}[rt,bigrt,at={(737.25pt,-254pt)},width=258.5pt,height=24pt,xmin=-0.5,xmax=10.5,xtick={0,...,10},xlabel={}]
\rtrows{\RC}
\end{axis}

\begin{axis}[km,big,at={(1077.4pt,-186.65pt)},width=257.2pt,height=146.3pt,xmin=-0.45,xmax=10.45,xtick={0,...,10}]
\kmcurves{\Dh}{\Dl}{\bDh}{\bDl}{(0.5,0.84)(1.0,0.66)(1.6,0.41)(2.1,0.28)(2.7,0.19)(3.7,0.085)(3.9,0.085)(5.5,0.07)(5.7,0.07)(6.4,0.07)(7.2,0.07)}{(0.6,0.80)(1.3,0.43)(2.2,0.29)(2.8,0.26)(3.3,0.22)(4.1,0.15)(4.8,0.15)(5.4,0.15)(6.3,0.11)(6.6,0.11)(7.8,0.11)(8.0,0.11)(9.0,0.075)(10.4,0.075)}{1.5pt}
\node[anchor=west,font=\fP,text=black!85] at (axis cs:0.21,0.195) {p=0.623};
\end{axis}
\begin{axis}[rt,bigrt,at={(1077.4pt,-256pt)},width=257.2pt,height=24pt,xmin=-0.45,xmax=10.45,xtick={0,...,10}]
\rtrows{\RD}
\end{axis}

% ===== row 2 =====
\begin{axis}[km,big,at={(67.6pt,-528.4pt)},width=259.2pt,height=146.7pt,xmin=-0.6,xmax=13.1,xtick={0,...,13}]
\kmcurves{\Eh}{\El}{\bEh}{\bEl}{(2.9,0.28)(3.2,0.28)(4.4,0.255)(6.0,0.20)(7.0,0.19)(8.6,0.145)(9.9,0.145)(10.4,0.145)(10.7,0.145)(10.9,0.145)(11.1,0.145)(11.5,0.145)(12.0,0.145)}{(2.95,0.73)(4.5,0.60)(5.2,0.59)(6.9,0.55)(8.0,0.51)(8.7,0.50)(9.3,0.50)(9.5,0.50)(9.7,0.50)(10.0,0.49)(11.0,0.455)(11.3,0.455)(11.6,0.455)(11.9,0.455)}{1.5pt}
\node[anchor=west,font=\fP,text=black!85] at (axis cs:0.23,0.19) {p<0.001};
\end{axis}
\begin{axis}[rt,bigrt,at={(67.6pt,-597.85pt)},width=259.2pt,height=25.2pt,xmin=-0.6,xmax=13.1,xtick={0,...,13}]
\rtrows{\RE}
\end{axis}

\begin{axis}[km,big,at={(399.7pt,-528.3pt)},width=258.2pt,height=145.6pt,xmin=-0.6,xmax=13.1,xtick={0,...,13}]
\kmcurves{\Fh}{\Fl}{\bFh}{\bFl}{(0.5,1.0)(0.55,1.0)(4.3,0.77)(4.6,0.77)(6.7,0.73)(8.3,0.68)(8.7,0.64)(10.6,0.62)(10.8,0.62)(11.0,0.62)(11.2,0.62)(11.5,0.62)(11.7,0.62)(12.0,0.62)}{(2.0,0.98)(3.2,0.92)(3.5,0.82)(4.3,0.78)(5.0,0.76)(9.0,0.63)(9.3,0.63)(9.5,0.63)(9.8,0.63)(10.2,0.605)(10.8,0.575)(11.0,0.575)(11.2,0.575)(11.4,0.575)(11.6,0.575)(11.8,0.575)(12.0,0.575)}{1.5pt}
\node[anchor=west,font=\fP,text=black!85] at (axis cs:0.27,0.19) {p=0.908};
\end{axis}
\begin{axis}[rt,bigrt,at={(399.7pt,-598.35pt)},width=258.2pt,height=25.2pt,xmin=-0.6,xmax=13.1,xtick={0,...,13}]
\rtrows{\RF}
\end{axis}

\begin{axis}[km,big,at={(742.4pt,-530.35pt)},width=252.5pt,height=146.3pt,xmin=-0.55,xmax=12.2,xtick={0,...,12}]
\kmcurves{\Gh}{\Gl}{\bGh}{\bGl}{(1.8,0.52)(2.55,0.38)(10.45,0.11)}{(7.3,0.42)(9.6,0.42)(10.7,0.38)(10.9,0.38)(11.1,0.38)(11.4,0.38)(11.6,0.38)(11.8,0.38)(12.0,0.38)}{1.5pt}
\node[anchor=west,font=\fP,text=black!85] at (axis cs:0.3,0.2) {p=0.039};
\end{axis}
\begin{axis}[rt,bigrt,at={(742.4pt,-600.5pt)},width=252.5pt,height=24.7pt,xmin=-0.55,xmax=12.2,xtick={0,...,12}]
\rtrows{\RG}
\end{axis}

\begin{axis}[km,big,at={(1079.2pt,-532pt)},width=259.6pt,height=146pt,xmin=-0.5,xmax=10.5,xtick={0,...,10}]
\kmcurves{\Hh}{\Hl}{\bHh}{\bHl}{(0.5,0.91)}{(4.25,0.245)(9.8,0.115)}{1.5pt}
\node[anchor=west,font=\fP,text=black!85] at (axis cs:0.2,0.19) {p=0.003};
\end{axis}
\begin{axis}[rt,bigrt,at={(1079.2pt,-603.2pt)},width=259.6pt,height=25.7pt,xmin=-0.5,xmax=10.5,xtick={0,...,10}]
\rtrows{\RH}
\end{axis}

% ===== row 3 =====
\begin{axis}[km,small,at={(53.3pt,-819.3pt)},width=267.7pt,height=110pt,xmin=-0.9,xmax=20.9,xtick={0,...,20}]
\kmcurves{\Ih}{\Il}{\bIh}{\bIl}{(4.8,0.21)(5.9,0.19)(6.2,0.19)(6.9,0.19)(7.3,0.19)(7.5,0.19)(8.5,0.17)(9.0,0.17)(10.1,0.17)(14.0,0.12)(15.2,0.12)(17.6,0.12)}{(2.5,0.94)(3.1,0.91)(4.6,0.77)(5.1,0.73)(6.2,0.64)(7.1,0.57)(7.6,0.54)(9.7,0.35)(10.2,0.33)(13.0,0.11)}{1.15pt}
\node[anchor=west,font=\sP,text=black!85] at (axis cs:0.38,0.19) {p<0.001};
\end{axis}
\begin{axis}[rt,smallrt,at={(53.3pt,-870.4pt)},width=267.7pt,height=16.1pt,xmin=-0.9,xmax=20.9,xtick={0,...,20}]
\rtrows{\RI}
\end{axis}

\begin{axis}[km,small,at={(383.5pt,-820.7pt)},width=269pt,height=110pt,xmin=-0.7,xmax=15.7,xtick={0,...,15}]
\kmcurves{\Jh}{\Jl}{\bJh}{\bJl}{(1.2,0.96)(1.6,0.94)(2.6,0.86)(3.3,0.83)(3.7,0.83)(4.1,0.83)(4.5,0.83)(4.9,0.83)(5.2,0.83)(7.0,0.745)(7.3,0.745)(7.6,0.745)(8.3,0.63)(8.8,0.63)(10.3,0.55)(11.5,0.46)(13.0,0.34)(14.4,0.34)(15.2,0.34)}{(1.0,0.99)(1.5,0.99)(2.0,0.99)(2.4,0.99)(3.7,0.91)(4.2,0.86)(7.8,0.51)}{1.15pt}
\node[anchor=west,font=\sP,text=black!85] at (axis cs:0.3,0.18) {p=0.679};
\end{axis}
\begin{axis}[rt,smallrt,at={(383.5pt,-872.6pt)},width=269pt,height=19.2pt,xmin=-0.7,xmax=15.7,xtick={0,...,15}]
\rtrows{\RJ}
\end{axis}

\begin{axis}[km,small,at={(735.7pt,-818.3pt)},width=267pt,height=109.3pt,xmin=-0.9,xmax=20.9,xtick={0,...,20}]
\kmcurves{\Kh}{\Kl}{\bKh}{\bKl}{(4.7,0.285)(6.0,0.22)(6.4,0.22)(7.8,0.22)(17.6,0.22)}{(1.0,0.99)(3.3,0.87)(5.0,0.63)(10.2,0.28)}{1.15pt}
\node[anchor=west,font=\sP,text=black!85] at (axis cs:0.35,0.185) {p<0.001};
\end{axis}
\begin{axis}[rt,smallrt,at={(735.7pt,-870.6pt)},width=267pt,height=19.2pt,xmin=-0.9,xmax=20.9,xtick={0,...,20}]
\rtrows{\RK}
\end{axis}

\begin{axis}[km,small,at={(1068.6pt,-820pt)},width=267.5pt,height=109.3pt,xmin=-0.2,xmax=4.21,xtick={0,...,4}]
\kmcurves{\Lh}{\Ll}{\bLh}{\bLl}{(0.6,0.755)(0.8,0.72)(0.85,0.72)(1.3,0.39)}{(0.55,0.77)(1.35,0.39)(1.6,0.37)(2.2,0.22)(2.6,0.17)(3.3,0.135)}{1.15pt}
\node[anchor=west,font=\sP,text=black!85] at (axis cs:0.09,0.19) {p=0.632};
\end{axis}
\begin{axis}[rt,smallrt,at={(1068.6pt,-871.9pt)},width=267.5pt,height=17.8pt,xmin=-0.2,xmax=4.21,xtick={0,...,4}]
\rtrows{\RL}
\end{axis}

% ===== panel letters =====
\node[anchor=west,font=\fPan] at (8pt,-24pt) {(A)};
\node[anchor=west,font=\fPan] at (342pt,-23pt) {(B)};
\node[anchor=west,font=\fPan] at (670pt,-23pt) {(C)};
\node[anchor=west,font=\fPan] at (1022pt,-24pt) {(D)};
\node[anchor=west,font=\fPan] at (8pt,-363pt) {(E)};
\node[anchor=west,font=\fPan] at (342pt,-363pt) {(F)};
\node[anchor=west,font=\fPan] at (668pt,-364pt) {(G)};
\node[anchor=west,font=\fPan] at (1022pt,-363pt) {(H)};
\node[anchor=west,font=\rmfamily\bfseries\fontsize{20}{22}\selectfont] at (8pt,-698pt) {(I)};
\node[anchor=west,font=\fPan] at (342pt,-698pt) {(J)};
\node[anchor=west,font=\fPan] at (668pt,-698pt) {(K)};
\node[anchor=west,font=\fPan] at (1022pt,-698pt) {(L)};

% ===== captions =====
\node[anchor=base] at (191pt,-315pt) {\capt{CGGA RNA-seq}};
\node[anchor=base] at (528pt,-315pt) {\capt{CGGA RNA-seq (Grade II)}};
\node[anchor=base] at (860pt,-315pt) {\capt{CGGA RNA-seq (Grade III)}};
\node[anchor=base] at (1196pt,-315pt) {\capt{CGGA RNA-seq (Grade IV)}};
\node[anchor=base] at (186pt,-662pt) {\capt{CGGA microarray}};
\node[anchor=base] at (515pt,-662pt) {\capt{CGGA microarray(Grade II )}};
\node[anchor=base] at (876pt,-662pt) {\capt{CGGA microarray {\cjk （}Grade III {\cjk ）}}};
\node[anchor=base] at (1203pt,-662pt) {\capt{CGGA microarray(Grade IV )}};
\node[anchor=base] at (183pt,-932pt) {\capt{TCGA RNA-seq}};
\node[anchor=base] at (511pt,-932pt) {\capt{TCGA RNA-seq (Grade II )}};
\node[anchor=base] at (859pt,-932pt) {\capt{TCGA RNA-seq (Grade III )}};
\node[anchor=base] at (1191pt,-932pt) {\capt{TCGA RNA-seq (Grade IV)}};
\end{tikzpicture}
\end{document}
